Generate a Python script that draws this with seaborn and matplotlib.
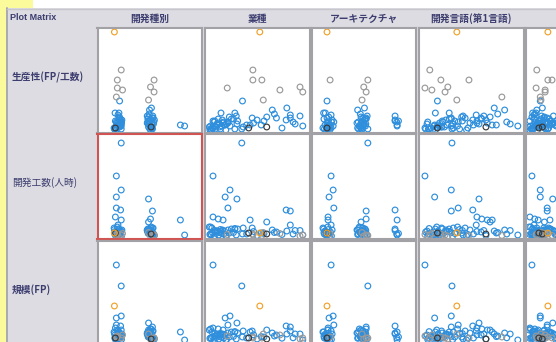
import numpy as np
import pandas as pd
import matplotlib
matplotlib.use("Agg")
import matplotlib.pyplot as plt
from matplotlib.patches import Rectangle
from matplotlib.lines import Line2D
import seaborn as sns

sns.set_theme(style="white")
plt.rcParams["font.family"] = ["Noto Sans CJK JP", "DejaVu Sans"]

nan = np.nan

# One entry per project: categorical positions (category index with jitter),
# productivity (FP/h), effort (person-hours), size (FP), colour group.
dev_type = [-0.11,
            0.10, -0.02, 1.11, -0.02, 1.00, 0.14, 1.11, -0.05, 0.94,
            0.10, -0.05, 0.10, -0.05, 0.94, -0.05, 0.08, 1.06, -0.08, 1.00,
            0.10, 1.92, 0.94, 0.00, 2.05, 0.05, 1.03, 0.97, 0.03, 1.08, 0.90,
            -0.10, 0.08, -0.04, 0.12, -0.12, 0.04, 0.10, -0.07, 0.02, -0.02,
            0.06, -0.09, 1.05, 0.95, 1.10, 0.92, 1.02, 1.07, 0.98, 0.90,
            1.12, 1.00, 0.96, 1.04, 0.93, 0.06,
            -0.06, 0.05, -0.01, 0.11, -0.11, 0.03, 1.01, 0.94, 1.09, 0.97,
            1.06, 0.99, 0.91, 1.03, -0.03, 0.07,
            -0.08, 1.02]
industry = [7.4,
            6.4, 6.4, 7.7, 2.7, 13.2, 10.3, 13.6, nan, 7.9,
            4.8, 0.65, 3.1, 2.4, 4.1, 2.8, 11.2, 11.8, 0.65, 1.4,
            2.1, 6.0, 8.4, 11.8, 13.6, 4.9, 11.3, 9.2, 3.8, 6.3, 13.2,
            0.3, 0.9, 1.5, 2.0, 0.5, 3.0, 1.2, 2.5, 4.2, 0.1,
            5.5, 1.8, 0.6, 1.3, 2.2, 3.3, 0.3, 4.0, 1.0, 2.8,
            7.0, 5.0, 9.5, 12.5, 8.0, 9.8,
            0.4, 1.1, 2.3, 0.8, 1.7, 3.6, 0.2, 1.6, 2.6, 0.9,
            3.8, 1.9, 6.5, 10.6, 7.6, 12.2,
            5.8, 8.4]
architecture = [0.00,
                nan, 0.09, 1.20, nan, 1.08, nan, 1.15, nan, 1.03,
                1.20, 0.12, 0.18, 0.06, nan, 0.20, 2.00, 1.15, 0.03, 1.15,
                0.03, 2.06, 1.00, 0.12, 2.06, 0.00, 1.10, 0.90, -0.10, 1.05, 2.00,
                -0.08, 0.10, 0.00, 0.15, -0.12, 0.05, 1.05, 0.08, 2.00, 0.02,
                1.00, -0.05, 1.00, 1.08, 0.92, 1.12, 0.95, 1.18, 1.02, 0.88,
                1.10, 1.05, 0.98, 1.14, 2.10, 0.00,
                -0.03, 0.07, -0.06, 0.13, 0.04, -0.09, 1.02, 0.97, 1.09, 1.04,
                0.93, 1.13, 1.00, 0.90, 0.02, 2.05,
                0.00, nan]
language = [5.1,
            1.2, 2.8, 6.85, 0.5, 3.8, 1.5, 3.4, 11.6, 5.1,
            4.4, 0.5, 4.3, 1.9, 8.3, 5.3, 7.4, 4.3, 8.0, 8.7,
            9.5, 10.2, 9.9, 7.9, 13.9, 2.3, 10.5, 12.0, 2.0, 6.3, 9.0,
            1.0, 1.8, 2.6, 3.5, 4.6, 5.8, 0.8, 6.5, 3.0, 2.2,
            7.5, 4.0, 1.4, 2.4, 3.1, 4.0, 5.2, 6.0, 0.6, 7.0,
            9.3, 2.9, 11.0, 12.8, 4.8, 8.6,
            1.6, 2.9, 3.7, 0.9, 5.5, 4.3, 2.0, 3.3, 4.5, 5.9,
            1.1, 2.7, 8.0, 6.7, 10.8, 12.3,
            2.3, 9.3]
language2 = [2.8,
             1.2, 2.8, 3.4, 1.1, nan, 2.4, 2.4, 1.7, 1.8,
             5.5, 0.5, 1.7, 1.7, 3.5, 2.7, nan, 2.7, 0.2, 0.9,
             1.4, 3.1, 2.3, 0.8, 4.0, 1.7, 2.0, 1.2, 0.6, 2.2, 3.6,
             0.4, 1.0, 1.6, 2.2, 2.9, 0.5, 1.3, 2.0, 3.2, 0.1,
             3.8, 1.1, 0.7, 1.5, 2.4, 3.0, 0.3, 1.9, 2.8, 3.4,
             4.2, 1.2, 0.9, 2.6, 1.6, 0.8,
             0.6, 1.3, 2.0, 0.9, 2.5, 1.8, 0.2, 1.1, 2.1, 3.1,
             0.6, 1.4, 3.7, 2.3, 1.0, 4.5,
             1.5, 2.0]
productivity = [0.99,
                0.61, 0.51, 0.51, 0.43, 0.44, 0.41, 0.39, 0.34, 0.31,
                0.02, 0.03, 0.05, 0.06, 0.07, 0.09, 0.11, 0.13, 0.10, 0.12,
                0.08, 0.06, 0.14, 0.16, 0.05, 0.30, 0.23, 0.21, 0.18, 0.13, 0.15,
                0.02, 0.05, 0.08, 0.11, 0.03, 0.14, 0.07, 0.01, 0.10, 0.04,
                0.06, 0.18, 0.03, 0.06, 0.09, 0.12, 0.05, 0.15, 0.02, 0.08,
                0.11, 0.04, 0.17, 0.07, 0.10, 0.13,
                0.01, 0.04, 0.06, 0.09, 0.02, 0.12, 0.01, 0.04, 0.07, 0.10,
                0.02, 0.05, 0.08, 0.03, 0.06, 0.09,
                0.03, 0.04]
effort = [4000,
          2000, 3000, 1500, 2500, 1000, 3500, 2000, 1500, 4500,
          94000, 61000, 47000, 40000, 38000, 29000, 27000, 26000, 20000, 18000,
          17000, 17000, 15000, 12000, 2000, 3000, 6000, 7000, 8000, 9000, 6500,
          3000, 5000, 2000, 7000, 9000, 4000, 6000, 1000, 8000, 10000,
          3000, 5500, 4000, 6000, 3000, 8000, 10000, 2000, 5000, 7000,
          1500, 9000, 4500, 6500, 3500, 5000,
          2000, 3500, 6000, 1000, 7500, 4500, 2500, 4500, 1000, 6500,
          8500, 3500, 5500, 2500, 4000, 3000,
          4000, 3000]
size_fp = [1700,
           100, 150, 100, 200, 50, 250, 100, 150, 300,
           2700, 3750, 1200, 1100, 850, 750, 700, 650, 600, 550,
           500, 400, 500, 450, 0, 150, 300, 350, 400, 450, 300,
           100, 200, 50, 300, 400, 150, 250, 0, 350, 500,
           100, 250, 150, 300, 100, 400, 550, 50, 200, 350,
           50, 450, 200, 300, 150, 250,
           80, 120, 280, 30, 330, 180, 80, 180, 20, 320,
           420, 130, 260, 90, 170, 110,
           100, 50]
group = ["top"] + ["high"] * 9 + ["base"] * 63 + ["mark"] * 2

projects = pd.DataFrame({
    "開発種別": dev_type,
    "業種": industry,
    "アーキテクチャ": architecture,
    "開発言語(第1言語)": language,
    "開発言語(第2言語)": language2,
    "生産性(FP/工数)": productivity,
    "開発工数(人時)": effort,
    "規模(FP)": size_fp,
    "group": group,
})

group_order = ["base", "high", "mark", "top"]
palette = {"base": "#2f8fdc", "high": "#9a9a9a", "mark": "#3a3a3a", "top": "#f0a22c"}
projects["rank"] = projects["group"].map({g: k for k, g in enumerate(group_order)})
projects = projects.sort_values("rank", kind="stable")

col_vars = ["開発種別", "業種", "アーキテクチャ", "開発言語(第1言語)", "開発言語(第2言語)"]
row_vars = ["生産性(FP/工数)", "開発工数(人時)", "規模(FP)"]
col_headers = ["開発種別", "業種", "アーキテクチャ", "開発言語(第1言語)"]

x_limits = [(-0.63, 2.6), (-0.58, 14.57), (-0.456, 2.63), (-0.43, 14.72), (-0.43, 14.72)]
y_limits = [(-0.015, 1.035), (-2200, 102800), (-295, 4955)]

W, H = 556, 342
fig = plt.figure(figsize=(W / 100, H / 100), dpi=100)
fig.patch.set_facecolor("#dcdce2")


def frac_rect(x, y, w, h):
    return [x / W, 1 - (y + h) / H, w / W, h / H]


def band(x, y, w, h, color, z=-5):
    r = frac_rect(x, y, w, h)
    fig.add_artist(Rectangle((r[0], r[1]), r[2], r[3], transform=fig.transFigure,
                             facecolor=color, edgecolor="none", zorder=z))


# window chrome around the matrix
band(33, 0, W - 33, 8, "white")
band(0, 0, 33, 8, "#fbfb9c")
band(0, 0, 6, H, "#fbfb9c")
fig.add_artist(Line2D([6.8 / W, 6.8 / W], [0, 1 - 8 / H], transform=fig.transFigure,
                      color="#a9a9b0", lw=1.4, zorder=-4))
fig.add_artist(Line2D([6.8 / W, 1], [1 - 8.5 / H, 1 - 8.5 / H], transform=fig.transFigure,
                      color="#c6c6cc", lw=1.0, zorder=-4))

panel_w, panel_h = 105, 105
for r, yv in enumerate(row_vars):
    for c, xv in enumerate(col_vars):
        ax = fig.add_axes(frac_rect(97.5 + 107 * c, 27.5 + 106.7 * r, panel_w, panel_h))
        ax.set_facecolor("white")
        sns.scatterplot(data=projects, x=xv, y=yv, hue="group", hue_order=group_order,
                        palette=palette, s=17, marker="o", linewidth=0.85,
                        legend=False, ax=ax)
        pts = ax.collections[-1]
        colors = pts.get_facecolors()
        pts.set_edgecolors(colors)
        pts.set_facecolors("none")
        pts.set_linewidths(0.85)
        ax.set_xlim(*x_limits[c])
        ax.set_ylim(*y_limits[r])
        ax.set_xticks([])
        ax.set_yticks([])
        ax.set_xlabel("")
        ax.set_ylabel("")
        edge = "#d05552" if (r == 1 and c == 0) else "#a2a2a6"
        for sp in ax.spines.values():
            sp.set_visible(True)
            sp.set_color(edge)
            sp.set_linewidth(1.5)

title_color = "#3d3d70"
fig.text(10 / W, 1 - 17 / H, "Plot Matrix", fontsize=6.5, weight="bold", color=title_color,
         va="center", ha="left", family=["Liberation Sans", "DejaVu Sans"])
for c, name in enumerate(col_headers):
    cx = 97.5 + 107 * c + panel_w / 2
    fig.text(cx / W, 1 - 19 / H, name, fontsize=7, weight="bold", color=title_color,
             ha="center", va="center")

row_label_y = [77, 183, 290]
row_weights = ["bold", "normal", "bold"]
for name, yy, wt in zip(row_vars, row_label_y, row_weights):
    fig.text(12 / W, 1 - yy / H, name, fontsize=7, weight=wt, color=title_color,
             ha="left", va="center")

fig.savefig("out.png", dpi=100, facecolor=fig.get_facecolor())
